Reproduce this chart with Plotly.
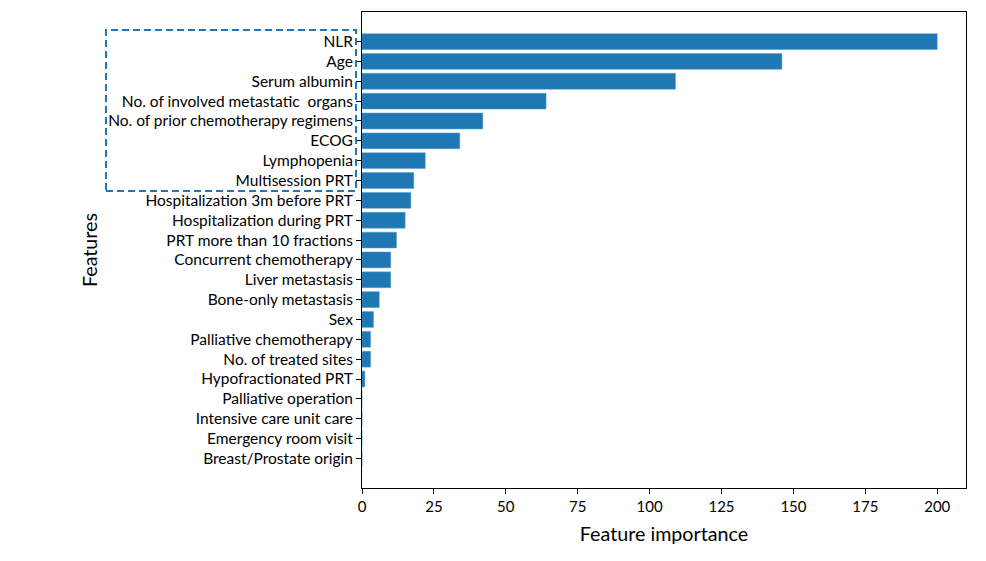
import plotly.graph_objects as go

features = [
    "NLR", "Age", "Serum albumin", "No. of involved metastatic  organs",
    "No. of prior chemotherapy regimens", "ECOG", "Lymphopenia", "Multisession PRT",
    "Hospitalization 3m before PRT", "Hospitalization during PRT",
    "PRT more than 10 fractions", "Concurrent chemotherapy", "Liver metastasis",
    "Bone-only metastasis", "Sex", "Palliative chemotherapy", "No. of treated sites",
    "Hypofractionated PRT", "Palliative operation", "Intensive care unit care",
    "Emergency room visit", "Breast/Prostate origin",
]
importance = [200, 146, 109, 64, 42, 34, 22, 18, 17, 15, 12, 10, 10, 6, 4, 3, 3, 1, 0, 0, 0, 0]
x_ticks = [0, 25, 50, 75, 100, 125, 150, 175, 200]

FONT = "Lato"
fig = go.Figure(go.Bar(
    x=importance, y=features, orientation="h", width=0.8,
    marker=dict(color="#1f77b4", line=dict(color="#5a9fd4", width=0.5)),
))

fig.update_layout(
    width=986, height=561,
    margin=dict(l=362, r=20, t=12, b=73),
    plot_bgcolor="white", paper_bgcolor="white",
    showlegend=False,
    font=dict(family=FONT, size=15, color="black"),
)
fig.update_xaxes(
    range=[0, 210], tickvals=x_ticks, ticks="outside", ticklen=5, tickcolor="black",
    showline=True, linecolor="black", linewidth=1, mirror=True, showgrid=False, zeroline=False,
    tickfont=dict(size=15),
    title=dict(text="Feature importance", font=dict(size=19.7), standoff=13),
)
fig.update_yaxes(
    type="category", categoryorder="array", categoryarray=features,
    range=[len(features) - 1 + 1.49, -1.49],
    ticks="outside", ticklen=5, tickcolor="black",
    showline=True, linecolor="black", linewidth=1, mirror=True, showgrid=False, zeroline=False,
    tickfont=dict(size=15.5),
    title=dict(text="Features", font=dict(size=19.7), standoff=5),
)
fig.add_shape(
    type="rect", xref="paper", yref="paper",
    x0=(106 - 362) / 604, x1=(356 - 362) / 604,
    y0=(488 - 191) / 476, y1=(488 - 30) / 476,
    line=dict(color="#1f77b4", width=2, dash="7px,4px"),
)
fig.write_html("out.html")
